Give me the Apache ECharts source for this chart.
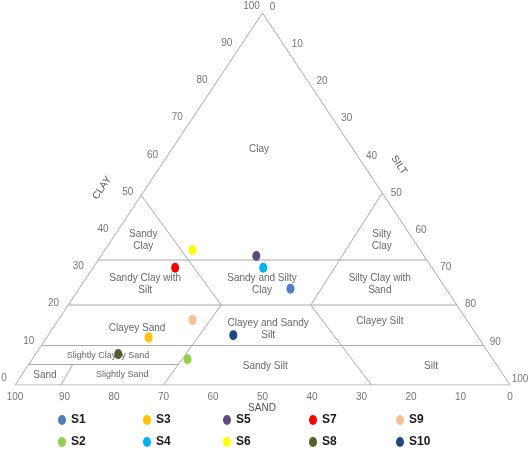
<!DOCTYPE html>
<html>
<head>
<meta charset="utf-8">
<script src="https://cdn.jsdelivr.net/npm/echarts@6/dist/echarts.min.js"></script>
<style>
  html, body { margin: 0; padding: 0; background: #fff; }
  #chart { width: 529px; height: 452px; }
</style>
</head>
<body>
<div id="chart"></div>
<script>
// samples, percent [sand, silt, clay]
const sampleNames = ["S1", "S2", "S3", "S4", "S5", "S6", "S7", "S8", "S9", "S10"];
const sampleSand = [31.4, 61.7, 66.6, 34.1, 33.9, 46.0, 51.9, 75.0, 55.4, 49.2];
const sampleSilt = [42.7, 31.4, 20.6, 34.4, 31.4, 17.7, 16.6, 16.7, 27.1, 37.4];
const sampleClay = [25.9, 6.9, 12.8, 31.5, 34.7, 36.3, 31.5, 8.3, 17.5, 13.4];
const sampleColors = ["#4f7ec1", "#92d050", "#ffc000", "#00b0f0", "#604a7b",
                      "#ffff00", "#ff0000", "#4f6228", "#fac090", "#1f497d"];

// class boundaries, each a polyline of [sand, silt, clay]
const boundaries = [
  [[100, 0, 0], [0, 100, 0], [0, 0, 100], [100, 0, 0]],
  [[66.4, 0, 33.6], [0, 66.4, 33.6]],
  [[78.5, 0, 21.5], [0, 78.5, 21.5]],
  [[89.4, 0, 10.6], [0, 89.4, 10.6]],
  [[94.5, 0, 5.5], [64.3, 30.2, 5.5]],
  [[90.7, 9.3, 0], [85.6, 8.9, 5.5]],
  [[49, 0, 51], [47.6, 30.9, 21.5], [70, 30, 0]],
  [[0, 48.4, 51.6], [29.5, 49, 21.5], [28, 72, 0]]
];

// class names and where they sit, [sand, silt, clay]
const classNames = ["Clay", "Sandy\nClay", "Sandy Clay with\nSilt", "Clayey Sand",
  "Sandy and Silty\nClay", "Clayey and Sandy\nSilt", "Sandy Silt",
  "Silty\nClay", "Silty Clay with\nSand", "Clayey Silt", "Silt", "Sand"];
const classSpots = [[19.0, 17.6, 63.4], [54.6, 6.4, 39.0], [60.1, 12.7, 27.2], [67.7, 17.0, 15.3],
  [36.5, 36.3, 27.2], [41.3, 43.6, 15.1], [46.9, 48.0, 5.1],
  [6.4, 54.6, 39.0], [12.7, 60.1, 27.2], [17.7, 65.1, 17.2], [13.4, 81.5, 5.1], [92.6, 4.7, 2.7]];
const smallClassNames = ["Slightly Clayey Sand", "Slightly Sand"];
const smallClassSpots = [[77.3, 14.9, 7.8], [77.0, 20.3, 2.7]];

const ticks = [0, 10, 20, 30, 40, 50, 60, 70, 80, 90, 100];

const font = "'Liberation Sans', Arial, sans-serif";
const ellipse = "path://M0,5 A4,5 0 1,1 8,5 A4,5 0 1,1 0,5 Z";

// ternary -> plain x/y on 0..100 axes
function toXY(p) {
  return [p[1] + p[2] / 2, p[2]];
}

function textSeries(names, spots, size) {
  return {
    type: "scatter",
    silent: true,
    symbolSize: 1,
    itemStyle: { color: "transparent" },
    label: {
      show: true,
      position: "inside",
      formatter: "{b}",
      fontSize: size,
      lineHeight: size + 2,
      color: "#404040",
      fontFamily: font,
      align: "center"
    },
    data: names.map((n, i) => ({ name: n, value: toXY(spots[i]) })),
    z: 4
  };
}

function tickSeries(points, offset) {
  return {
    type: "scatter",
    silent: true,
    symbolSize: 1,
    itemStyle: { color: "transparent" },
    label: {
      show: true,
      position: "inside",
      offset: offset,
      formatter: "{b}",
      fontSize: 10,
      color: "#505050",
      fontFamily: font
    },
    data: points,
    z: 4
  };
}

const series = [];

boundaries.forEach((b) => {
  series.push({
    type: "line",
    silent: true,
    symbol: "none",
    lineStyle: { color: "#a8a8a8", width: 1 },
    data: b.map(toXY),
    z: 1
  });
});

series.push(textSeries(classNames, classSpots, 10));
series.push(textSeries(smallClassNames, smallClassSpots, 9));

// sand along the bottom, clay on the left, silt on the right
series.push(tickSeries(ticks.map((t) => ({ name: String(t), value: toXY([t, 100 - t, 0]) })), [0, 12]));
series.push(tickSeries(ticks.map((t) => ({ name: String(t), value: toXY([100 - t, 0, t]) })), [-11, -7]));
series.push(tickSeries(ticks.map((t) => ({ name: String(t), value: toXY([0, t, 100 - t]) })), [10, -6]));

sampleNames.forEach((name, i) => {
  series.push({
    name: name,
    type: "scatter",
    symbol: ellipse,
    symbolSize: [8, 10],
    itemStyle: { color: sampleColors[i], opacity: 1 },
    data: [toXY([sampleSand[i], sampleSilt[i], sampleClay[i]])],
    z: 5
  });
});

const legendColumns = [["S1", "S2"], ["S3", "S4"], ["S5", "S6"], ["S7", "S8"], ["S9", "S10"]];
const legendLeft = [58, 143, 223, 309, 396];

const chart = echarts.init(document.getElementById("chart"));
chart.setOption({
  animation: false,
  textStyle: { fontFamily: font },
  grid: { left: 15, top: 13, width: 495, height: 372 },
  xAxis: { type: "value", min: 0, max: 100, show: false },
  yAxis: { type: "value", min: 0, max: 100, show: false },
  legend: legendColumns.map((col, i) => ({
    data: col,
    orient: "vertical",
    left: legendLeft[i],
    top: 414,
    padding: 0,
    itemWidth: 8,
    itemHeight: 10,
    itemGap: 10,
    icon: ellipse,
    itemStyle: { opacity: 1 },
    selectedMode: false,
    textStyle: { fontSize: 12, fontWeight: "bold", color: "#1a1a1a", lineHeight: 12, fontFamily: font }
  })),
  graphic: [
    { type: "text", x: 102, y: 188, rotation: 56 * Math.PI / 180,
      style: { text: "CLAY", fontSize: 10, fill: "#505050", align: "center", verticalAlign: "middle", fontFamily: font } },
    { type: "text", x: 399, y: 165, rotation: -56 * Math.PI / 180,
      style: { text: "SILT", fontSize: 10, fill: "#505050", align: "center", verticalAlign: "middle", fontFamily: font } },
    { type: "text", x: 262, y: 408,
      style: { text: "SAND", fontSize: 10, fill: "#505050", align: "center", verticalAlign: "middle", fontFamily: font } }
  ],
  series: series
});
</script>
</body>
</html>
